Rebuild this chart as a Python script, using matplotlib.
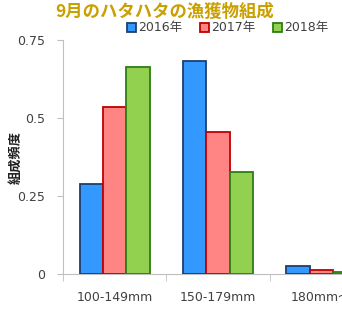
import numpy as np
import matplotlib.pyplot as plt
from matplotlib.patches import Patch
from matplotlib.ticker import FixedLocator

plt.rcParams['font.family'] = ['Noto Sans CJK JP', 'DejaVu Sans']
latin = ['DejaVu Sans', 'Noto Sans CJK JP']

# data
categories = ['100-149mm', '150-179mm', '180mm〜']
years = ['2016年', '2017年', '2018年']
v2016 = [0.29, 0.683, 0.026]
v2017 = [0.535, 0.455, 0.013]
v2018 = [0.663, 0.327, 0.006]

fills = ['#3399FF', '#FF8585', '#92D050']
edges = ['#1F3F6E', '#C00000', '#2E7D12']

fig = plt.figure(figsize=(3.42, 3.13), dpi=100)
# axes run past the right edge, the last group is cut off like the original
ax = fig.add_axes([63/342, 39/313, 310/342, 234/313])

x = np.arange(len(categories))
w = 0.225
for i, vals in enumerate([v2016, v2017, v2018]):
    ax.bar(x + (i - 1) * w, vals, w, color=fills[i], edgecolor=edges[i],
           linewidth=1.3, zorder=3)

ax.set_xlim(-0.5, 2.5)
ax.set_ylim(0, 0.75)
ax.set_yticks([0, 0.25, 0.5, 0.75])
ax.set_yticklabels(['0', '0.25', '0.5', '0.75'], family=latin)
ax.set_xticks(x)
ax.set_xticklabels(categories, family=latin)
ax.xaxis.set_minor_locator(FixedLocator([-0.5, 0.5, 1.5, 2.5]))
ax.tick_params(axis='x', which='major', length=0, pad=12, labelsize=9, labelcolor='#404040')
ax.tick_params(axis='x', which='minor', length=5, color='#BFBFBF')
ax.tick_params(axis='y', length=4, color='#BFBFBF', labelsize=9, labelcolor='#404040', pad=9)

for s in ['top', 'right']:
    ax.spines[s].set_visible(False)
ax.spines['left'].set_color('#BFBFBF')
ax.spines['bottom'].set_color('#BFBFBF')

fig.text(15/342, 1 - 157/313, '組成頻度', rotation=90, ha='center', va='center',
         fontsize=9.5, fontweight='bold', color='#202020')
fig.text(165/342, 1 - 12/313, '9月のハタハタの漁獲物組成', ha='center', va='center',
         fontsize=12.5, fontweight='bold', color='#C9A000')

handles = [Patch(facecolor=fills[i], edgecolor=edges[i], linewidth=1.3) for i in range(3)]
fig.legend(handles, years, loc='center', bbox_to_anchor=(228/342, 1 - 28/313), ncol=3,
           frameon=False, prop={'family': latin, 'size': 9}, handlelength=0.7,
           handleheight=0.7, handletextpad=0.2, columnspacing=1.4, labelcolor='#404040')

fig.savefig('out.png', dpi=100)
